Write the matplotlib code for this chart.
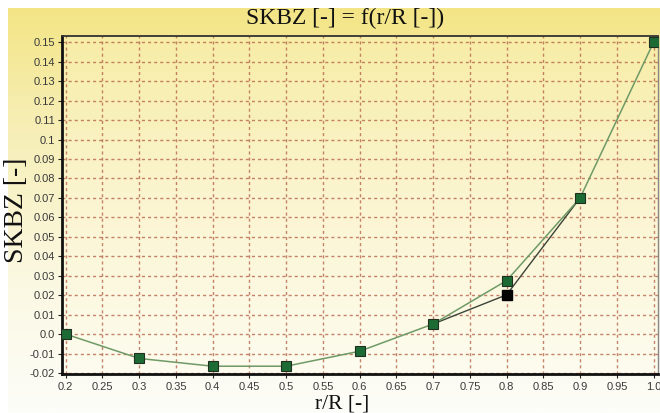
import numpy as np
import matplotlib
matplotlib.use("Agg")
import matplotlib.pyplot as plt
from matplotlib.colors import LinearSegmentedColormap

# r/R stations and SKBZ values
r_R = [0.2, 0.3, 0.4, 0.5, 0.6, 0.7, 0.8, 0.9, 1.0]
skbz = [0.0, -0.0125, -0.0165, -0.0165, -0.0088, 0.0052, 0.0275, 0.070, 0.150]

# alternative value at r/R = 0.8
r_R_alt = [0.7, 0.8, 0.9]
skbz_alt = [0.0052, 0.0202, 0.070]

x_ticks = [0.2, 0.25, 0.3, 0.35, 0.4, 0.45, 0.5, 0.55, 0.6, 0.65, 0.7, 0.75, 0.8, 0.85, 0.9, 0.95, 1.0]
x_ticklabels = ["0.2", "0.25", "0.3", "0.35", "0.4", "0.45", "0.5", "0.55", "0.6", "0.65",
                "0.7", "0.75", "0.8", "0.85", "0.9", "0.95", "1.0"]
y_ticks = [-0.02, -0.01, 0.0, 0.01, 0.02, 0.03, 0.04, 0.05, 0.06, 0.07, 0.08, 0.09,
           0.1, 0.11, 0.12, 0.13, 0.14, 0.15]
y_ticklabels = ["-0.02", "-0.01", "0.0", "0.01", "0.02", "0.03", "0.04", "0.05", "0.06",
                "0.07", "0.08", "0.09", "0.1", "0.11", "0.12", "0.13", "0.14", "0.15"]

serif = ["Liberation Serif", "DejaVu Serif"]
sans = ["Liberation Sans", "DejaVu Sans"]

fig = plt.figure(figsize=(6.6, 4.13), dpi=100)
fig.patch.set_facecolor("white")

# yellow panel behind everything
bg = fig.add_axes([8 / 660, 0, 1 - 8 / 660, 1 - 8 / 413], zorder=-10)
bg_cmap = LinearSegmentedColormap.from_list(
    "bg", [(0.0, "#fdfdf9"), (0.35, "#fbf8e0"), (0.75, "#f6edb0"), (1.0, "#f3e585")])
grad = np.linspace(0, 1, 256).reshape(-1, 1)
bg.imshow(grad, cmap=bg_cmap, aspect="auto", origin="lower", extent=[0, 1, 0, 1])
bg.set_axis_off()

ax = fig.add_axes([62 / 660, 1 - 374 / 413, (658 - 62) / 660, (374 - 36) / 413])
plot_cmap = LinearSegmentedColormap.from_list(
    "plot", [(0.0, "#fdfcef"), (0.5, "#fbf5d2"), (1.0, "#f7eda6")])
ax.imshow(grad, cmap=plot_cmap, aspect="auto", origin="lower",
          extent=[0, 1, 0, 1], transform=ax.transAxes, zorder=0)

ax.set_xlim(0.195, 1.006)
ax.set_ylim(-0.0205, 0.1532)
ax.set_xticks(x_ticks)
ax.set_xticklabels(x_ticklabels)
ax.set_yticks(y_ticks)
ax.set_yticklabels(y_ticklabels)
ax.grid(True, color="#b5654a", linestyle=(0, (2.2, 2.2)), linewidth=1.0, alpha=0.8, zorder=1)

ax.plot(r_R_alt, skbz_alt, color="#3c4438", linewidth=1.0, zorder=3)
ax.plot(r_R, skbz, color="#6f9a66", linewidth=1.1, zorder=4,
        marker="s", markersize=7, markerfacecolor="#1d6b34", markeredgecolor="#203020",
        markeredgewidth=0.8)
ax.plot([r_R_alt[1]], [skbz_alt[1]], linestyle="none", marker="s", markersize=7,
        markerfacecolor="#050505", markeredgecolor="#000000", zorder=5)

for side in ["left", "bottom"]:
    ax.spines[side].set_linewidth(2.0)
    ax.spines[side].set_color("#111111")
ax.spines["top"].set_linewidth(1.3)
ax.spines["top"].set_color("#333333")
ax.spines["right"].set_linewidth(1.0)
ax.spines["right"].set_color("#888888")

ax.tick_params(direction="out", length=3, width=0.8, colors="#222222", labelsize=8)
for lbl in ax.get_xticklabels() + ax.get_yticklabels():
    lbl.set_family(sans)
    lbl.set_color("#3a3a3a")
ax.tick_params(axis="x", pad=3)
ax.tick_params(axis="y", pad=2)

fig.text(345 / 660, 1 - 18 / 413, "SKBZ [-] = f(r/R [-])", family=serif, fontsize=17,
         ha="center", va="center", color="#111111")
fig.text(17 / 660, 1 - 210 / 413, "SKBZ [-]", family=serif, fontsize=20,
         rotation=90, ha="center", va="center", color="#111111")
fig.text(342 / 660, 1 - 404 / 413, "r/R [-]", family=serif, fontsize=15.5,
         ha="center", va="center", color="#111111")

fig.savefig("out.png", dpi=100, facecolor=fig.get_facecolor())
